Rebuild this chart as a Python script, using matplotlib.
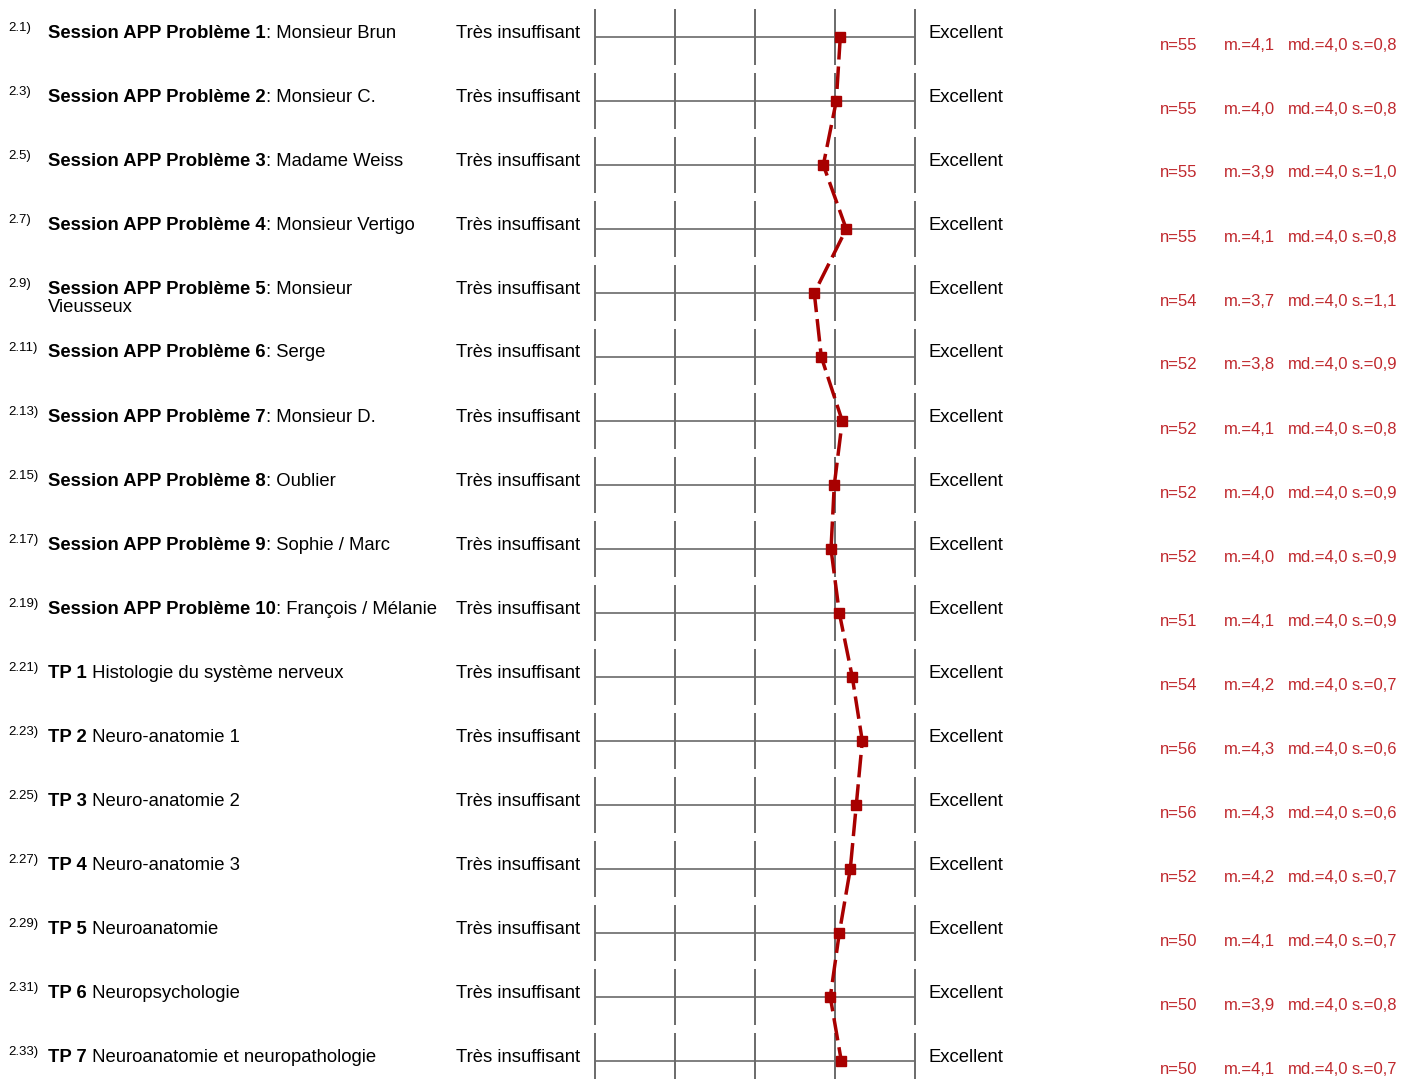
import matplotlib
matplotlib.use('Agg')
import matplotlib.pyplot as plt
import numpy as np

plt.rcParams['font.family'] = ['Liberation Sans', 'DejaVu Sans']

W, H = 1413, 1079

# ---- data
nums = ['2.1)', '2.3)', '2.5)', '2.7)', '2.9)', '2.11)', '2.13)', '2.15)', '2.17)',
        '2.19)', '2.21)', '2.23)', '2.25)', '2.27)', '2.29)', '2.31)', '2.33)']
bold_part = ['Session APP Problème 1', 'Session APP Problème 2', 'Session APP Problème 3',
             'Session APP Problème 4', 'Session APP Problème 5', 'Session APP Problème 6',
             'Session APP Problème 7', 'Session APP Problème 8', 'Session APP Problème 9',
             'Session APP Problème 10', 'TP 1', 'TP 2', 'TP 3', 'TP 4', 'TP 5', 'TP 6', 'TP 7']
rest_part = [': Monsieur Brun', ': Monsieur C.', ': Madame Weiss', ': Monsieur Vertigo',
             ': Monsieur\nVieusseux', ': Serge', ': Monsieur D.', ': Oublier',
             ': Sophie / Marc', ': François / Mélanie', ' Histologie du système nerveux',
             ' Neuro-anatomie 1', ' Neuro-anatomie 2', ' Neuro-anatomie 3',
             ' Neuroanatomie', ' Neuropsychologie', ' Neuroanatomie et neuropathologie']
left_label = 'Très insuffisant'
right_label = 'Excellent'
n_vals = [55, 55, 55, 55, 54, 52, 52, 52, 52, 51, 54, 56, 56, 52, 50, 50, 50]
m_vals = [4.1, 4.0, 3.9, 4.1, 3.7, 3.8, 4.1, 4.0, 4.0, 4.1, 4.2, 4.3, 4.3, 4.2, 4.1, 3.9, 4.1]
md_vals = [4.0] * 17
s_vals = [0.8, 0.8, 1.0, 0.8, 1.1, 0.9, 0.8, 0.9, 0.9, 0.9, 0.7, 0.6, 0.6, 0.7, 0.7, 0.8, 0.7]
# profile points (mean positions)
profile = [4.066, 4.016, 3.854, 4.141, 3.741, 3.829, 4.091, 3.991, 3.95,
           4.054, 4.216, 4.341, 4.266, 4.191, 4.054, 3.941, 4.079]

nrows = len(nums)
x0_px, unit_px = 595, 80      # scale value 1 at px 595, 80 px per step
y0_px, row_px = 37, 64        # first row centre, row spacing

fig = plt.figure(figsize=(W / 100, H / 100), dpi=100)
ax = fig.add_axes([0, 0, 1, 1])
ax.set_xlim(1 - x0_px / unit_px, 1 + (W - x0_px) / unit_px)
ax.set_ylim((H - y0_px) / row_px, -y0_px / row_px)
ax.axis('off')

rows = np.arange(nrows)
grid_c = '#6a6a6a'
for r in rows:
    ax.hlines(r, 1, 5, color=grid_c, lw=1.2)
    ax.vlines([1, 2, 3, 4, 5], r - 28 / row_px, r + 28 / row_px, color=grid_c, lw=1.4)

ax.plot(profile, rows, color='#a80000', lw=2.5, linestyle=(0, (6.5, 2)),
        marker='s', markersize=7, markerfacecolor='#a80000', markeredgecolor='#a80000')

# ---- text
def px(x, y):
    return x / W, 1 - y / H

fig.canvas.draw()
renderer = fig.canvas.get_renderer()
fs = 13.3
stat_fs = 12
stat_c = '#c0282d'
fmt = lambda v: f'{v:.1f}'.replace('.', ',')
for i in range(nrows):
    yc = y0_px + row_px * i
    ty = yc - 4
    fig.text(*px(8, yc - 9), nums[i], fontsize=9.5, va='center', ha='left')
    tb = fig.text(*px(48, ty), bold_part[i], fontsize=fs, fontweight='bold',
                  va='center', ha='left')
    bb = tb.get_window_extent(renderer)
    rest = rest_part[i].split('\n')
    fig.text(bb.x1 / W, 1 - ty / H, rest[0], fontsize=fs, va='center', ha='left')
    for k, line in enumerate(rest[1:]):
        fig.text(*px(48, ty + 18 * (k + 1)), line, fontsize=fs, va='center', ha='left')
    fig.text(*px(456, ty), left_label, fontsize=fs, va='center', ha='left')
    fig.text(*px(928, ty), right_label, fontsize=fs, va='center', ha='left')
    fig.text(*px(1160, yc + 8), f'n={n_vals[i]}', fontsize=stat_fs, color=stat_c, va='center')
    fig.text(*px(1224, yc + 8), f'm.={fmt(m_vals[i])}', fontsize=stat_fs, color=stat_c, va='center')
    fig.text(*px(1288, yc + 8), f'md.={fmt(md_vals[i])}', fontsize=stat_fs, color=stat_c, va='center')
    fig.text(*px(1352, yc + 8), f's.={fmt(s_vals[i])}', fontsize=stat_fs, color=stat_c, va='center')

fig.savefig('out.png', dpi=100)
